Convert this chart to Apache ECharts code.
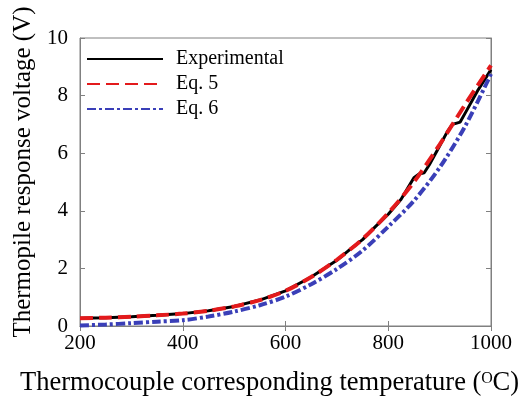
<!DOCTYPE html>
<html>
<head>
<meta charset="utf-8">
<script src="https://cdn.jsdelivr.net/npm/echarts@6/dist/echarts.min.js"></script>
<style>
  html, body { margin: 0; padding: 0; background: #fff; }
  #chart { width: 526px; height: 405px; }
</style>
</head>
<body>
<div id="chart"></div>
<script>
// temperatures (C) and voltages (V)
var tempExp = [200, 250, 300, 350, 400, 450, 500, 550, 600, 650, 700, 725, 750, 775, 800, 825, 840, 850, 860, 870, 880, 900, 915, 925, 940, 950, 975, 1000];
var voltExp = [0.27, 0.29, 0.32, 0.37, 0.43, 0.53, 0.68, 0.9, 1.22, 1.7, 2.28, 2.65, 3.0, 3.45, 3.88, 4.4, 4.85, 5.15, 5.28, 5.32, 5.6, 6.25, 6.75, 7.0, 7.08, 7.4, 8.2, 8.9];

var tempEq = [200, 250, 300, 350, 400, 450, 500, 550, 600, 650, 700, 750, 800, 850, 900, 950, 1000];
var voltEq5 = [0.27, 0.29, 0.32, 0.37, 0.43, 0.53, 0.68, 0.9, 1.22, 1.7, 2.3, 3.02, 3.92, 5.0, 6.3, 7.7, 9.05];
var voltEq6 = [0.02, 0.05, 0.1, 0.15, 0.2, 0.33, 0.5, 0.72, 1.02, 1.45, 1.98, 2.62, 3.45, 4.35, 5.5, 6.95, 8.75];

var xTicks = [200, 400, 600, 800, 1000];
var yTicks = [0, 2, 4, 6, 8, 10];

function pairs(xs, ys) {
  var out = [];
  for (var i = 0; i < xs.length; i++) {
    out.push([xs[i], ys[i]]);
  }
  return out;
}

var font = 'Liberation Serif';
var axisGray = '#808080';

var chart = echarts.init(document.getElementById('chart'));

var option = {
  backgroundColor: '#fff',
  animation: false,
  grid: {
    left: 80,
    right: 35,
    top: 38,
    bottom: 79,
    outerBoundsMode: 'none',
    show: true,
    borderColor: axisGray,
    borderWidth: 1
  },
  legend: {
    left: 81,
    top: 44,
    orient: 'vertical',
    itemWidth: 76,
    itemHeight: 14,
    itemGap: 5,
    itemStyle: { opacity: 0 },
    textStyle: { fontFamily: font, fontSize: 20, color: '#000', padding: [0, 0, 0, 8] },
    data: ['Experimental', 'Eq. 5', 'Eq. 6']
  },
  xAxis: [{
    type: 'value',
    min: xTicks[0],
    max: xTicks[xTicks.length - 1],
    interval: 200,
    name: 'Thermocouple corresponding temperature (\u1D3CC)',
    nameLocation: 'middle',
    nameGap: 44,
    nameTextStyle: { fontFamily: font, fontSize: 26.5, color: '#000', padding: [0, 32, 0, 0] },
    axisLine: { lineStyle: { color: axisGray } },
    axisTick: { inside: true, length: 5, lineStyle: { color: axisGray } },
    axisLabel: { fontFamily: font, fontSize: 21, color: '#000', margin: 7, formatter: function (v) { return String(v); } },
    splitLine: { show: false }
  }, {
    type: 'value',
    position: 'top',
    min: xTicks[0],
    max: xTicks[xTicks.length - 1],
    interval: 200,
    axisLine: { lineStyle: { color: axisGray } },
    axisTick: { inside: true, length: 5, lineStyle: { color: axisGray } },
    axisLabel: { show: false },
    splitLine: { show: false }
  }],
  yAxis: [{
    type: 'value',
    min: yTicks[0],
    max: yTicks[yTicks.length - 1],
    interval: 2,
    name: 'Thermopile response voltage (V)',
    nameLocation: 'middle',
    nameGap: 44,
    nameTextStyle: { fontFamily: font, fontSize: 25, color: '#000', padding: [0, 0, 0, 20] },
    axisLine: { show: true, lineStyle: { color: axisGray } },
    axisTick: { show: true, inside: true, length: 5, lineStyle: { color: axisGray } },
    axisLabel: { fontFamily: font, fontSize: 21, color: '#000', margin: 12 },
    splitLine: { show: false }
  }, {
    type: 'value',
    position: 'right',
    min: yTicks[0],
    max: yTicks[yTicks.length - 1],
    interval: 2,
    axisLine: { show: true, lineStyle: { color: axisGray } },
    axisTick: { show: true, inside: true, length: 5, lineStyle: { color: axisGray } },
    axisLabel: { show: false },
    splitLine: { show: false }
  }],
  series: [{
    name: 'Experimental',
    type: 'line',
    symbol: 'none',
    lineStyle: { color: '#000', width: 3 },
    itemStyle: { color: '#000' },
    data: pairs(tempExp, voltExp)
  }, {
    name: 'Eq. 5',
    type: 'line',
    symbol: 'none',
    smooth: 0.3,
    lineStyle: { color: '#e31a1c', width: 4, type: [13, 6] },
    itemStyle: { color: '#e31a1c' },
    data: pairs(tempEq, voltEq5)
  }, {
    name: 'Eq. 6',
    type: 'line',
    symbol: 'none',
    smooth: 0.3,
    lineStyle: { color: '#3a3fb8', width: 4, type: [9, 3, 3, 3] },
    itemStyle: { color: '#3a3fb8' },
    data: pairs(tempEq, voltEq6)
  }]
};

chart.setOption(option);
</script>
</body>
</html>
